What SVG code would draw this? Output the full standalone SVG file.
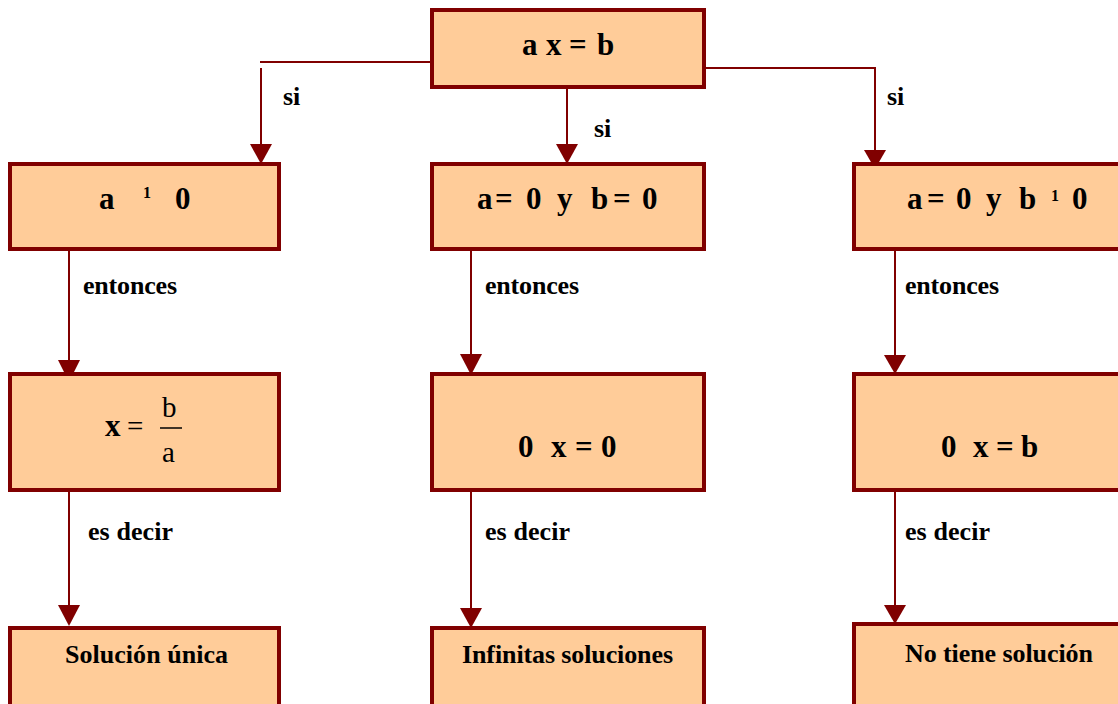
<svg xmlns="http://www.w3.org/2000/svg" width="1118" height="704" viewBox="0 0 1118 704">
<defs>
<style>
.box{fill:#FFCC99;stroke:#800000;stroke-width:4}
.t{font-family:"Liberation Serif","Times New Roman",serif;font-weight:bold;fill:#000}
.big{font-size:31px}
.lbl{font-size:26px}
.sup{font-size:16px}
.reg{font-family:"Liberation Serif","Times New Roman",serif;font-weight:normal;font-size:29px;fill:#000}
.c{fill:none;stroke:#800000;stroke-width:2}
.ah{fill:#800000}
</style>
</defs>
<rect width="1118" height="704" fill="#fff"/>
<g id="connectors">
<path class="c" d="M260,62 H432"/>
<path class="c" d="M261,68 V146"/>
<polygon class="ah" points="250,144 272,144 261,164"/>
<path class="c" d="M567,87 V146"/>
<polygon class="ah" points="556,144 578,144 567,164"/>
<path class="c" d="M704,68 H875 V152"/>
<polygon class="ah" points="864,150 886,150 875,169"/>
<path class="c" d="M69,249 V362"/>
<polygon class="ah" points="58,360 80,360 69,382"/>
<path class="c" d="M471,249 V356"/>
<polygon class="ah" points="460,354 482,354 471,375"/>
<path class="c" d="M895,249 V357"/>
<polygon class="ah" points="884,355 906,355 895,374"/>
<path class="c" d="M69,486 V607"/>
<polygon class="ah" points="58,605 80,605 69,626"/>
<path class="c" d="M471,486 V610"/>
<polygon class="ah" points="460,608 482,608 471,628"/>
<path class="c" d="M895,490 V607"/>
<polygon class="ah" points="884,605 906,605 895,624"/>
</g>
<g id="labels">
<text class="t lbl" x="283" y="105">si</text>
<text class="t lbl" x="594" y="137">si</text>
<text class="t lbl" x="887" y="105">si</text>
<text class="t lbl" x="83" y="294" textLength="94">entonces</text>
<text class="t lbl" x="485" y="294" textLength="94">entonces</text>
<text class="t lbl" x="905" y="294" textLength="94">entonces</text>
<text class="t lbl" x="88" y="540" textLength="85">es decir</text>
<text class="t lbl" x="485" y="540" textLength="85">es decir</text>
<text class="t lbl" x="905" y="540" textLength="85">es decir</text>
</g>
<g id="n-top">
<rect class="box" x="432" y="10" width="272" height="77"/>
<text class="t big" y="55"><tspan x="522">a</tspan><tspan x="546">x</tspan><tspan x="569">=</tspan><tspan x="597">b</tspan></text>
</g>
<g id="n-a-ne-0">
<rect class="box" x="10" y="164" width="269" height="85"/>
<text class="t big" y="209"><tspan x="99">a</tspan><tspan x="175">0</tspan></text>
<text class="t sup" x="143" y="198">1</text>
</g>
<g id="n-a0-b0">
<rect class="box" x="432" y="164" width="272" height="85"/>
<text class="t big" y="209"><tspan x="477">a</tspan><tspan x="495">=</tspan><tspan x="526">0</tspan><tspan x="557">y</tspan><tspan x="591">b</tspan><tspan x="613">=</tspan><tspan x="642">0</tspan></text>
</g>
<g id="n-a0-bne0">
<rect class="box" x="854" y="164" width="272" height="85"/>
<text class="t big" y="209"><tspan x="907">a</tspan><tspan x="927">=</tspan><tspan x="956">0</tspan><tspan x="986">y</tspan><tspan x="1019">b</tspan><tspan x="1072">0</tspan></text>
<text class="t sup" x="1051" y="201">1</text>
</g>
<g id="n-x-ba">
<rect class="box" x="10" y="374" width="269" height="116"/>
<text class="t big" x="105" y="436">x</text>
<text class="reg" x="127" y="436">=</text>
<text class="reg" x="162" y="417">b</text>
<line x1="160" y1="428" x2="182" y2="428" stroke="#000" stroke-width="1.5"/>
<text class="reg" x="162" y="462">a</text>
</g>
<g id="n-0x0">
<rect class="box" x="432" y="374" width="272" height="116"/>
<text class="t big" y="457"><tspan x="518">0</tspan><tspan x="551">x</tspan><tspan x="575">=</tspan><tspan x="601">0</tspan></text>
</g>
<g id="n-0xb">
<rect class="box" x="854" y="374" width="272" height="116"/>
<text class="t big" y="457"><tspan x="941">0</tspan><tspan x="973">x</tspan><tspan x="996">=</tspan><tspan x="1021">b</tspan></text>
</g>
<g id="n-unica">
<rect class="box" x="10" y="628" width="269" height="90"/>
<text class="t lbl" x="65" y="663" textLength="163">Solución única</text>
</g>
<g id="n-infinitas">
<rect class="box" x="432" y="628" width="272" height="90"/>
<text class="t lbl" x="462" y="663" textLength="211">Infinitas soluciones</text>
</g>
<g id="n-nosol">
<rect class="box" x="854" y="624" width="272" height="94"/>
<text class="t lbl" x="905" y="662" textLength="188">No tiene solución</text>
</g>
</svg>
